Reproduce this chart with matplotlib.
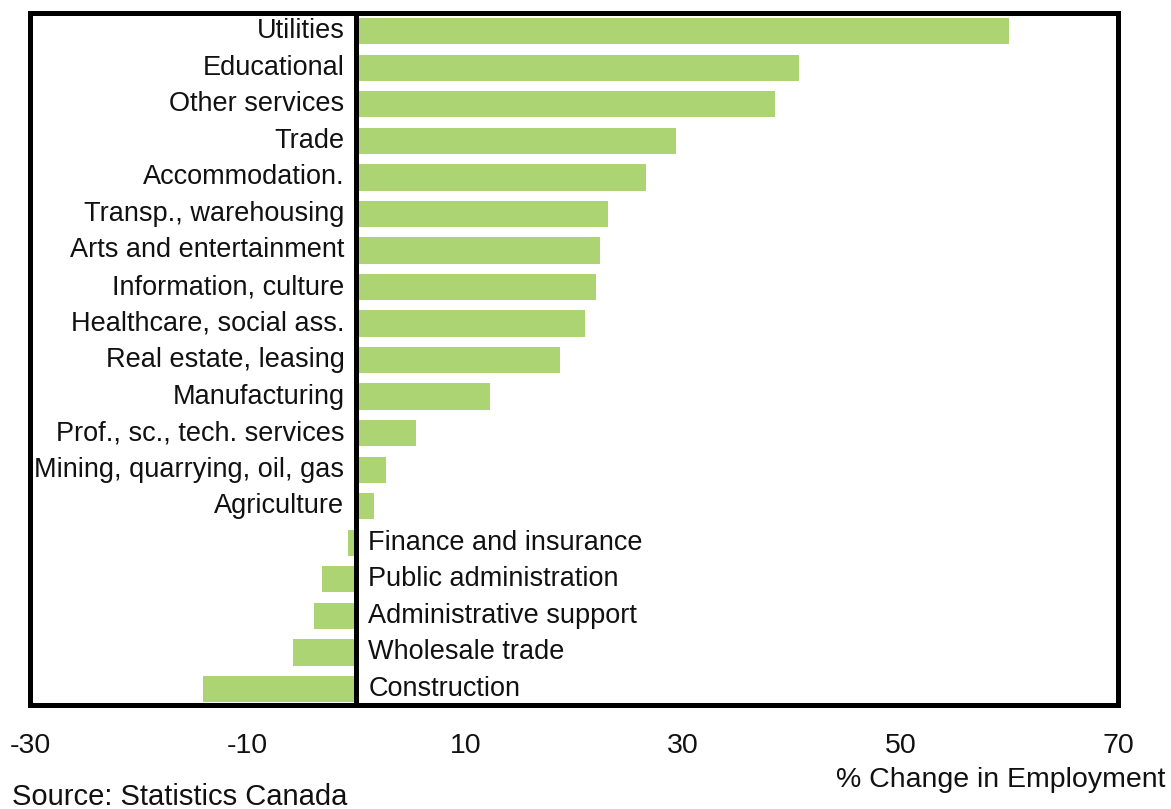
import numpy as np
import matplotlib.pyplot as plt

sectors = ['Utilities', 'Educational', 'Other services', 'Trade', 'Accommodation.',
           'Transp., warehousing', 'Arts and entertainment', 'Information, culture',
           'Healthcare, social ass.', 'Real estate, leasing', 'Manufacturing',
           'Prof., sc., tech. services', 'Mining, quarrying, oil, gas', 'Agriculture',
           'Finance and insurance', 'Public administration', 'Administrative support',
           'Wholesale trade', 'Construction']
change = [60.0, 40.7, 38.5, 29.4, 26.6, 23.1, 22.4, 22.0, 21.0, 18.7, 12.3,
          5.5, 2.7, 1.6, -0.8, -3.2, -3.9, -5.8, -14.1]
xticks = [-30, -10, 10, 30, 50, 70]

plt.rcParams['font.family'] = ['Liberation Sans', 'DejaVu Sans']

fig = plt.figure(figsize=(11.71, 8.09), dpi=100)
ax = fig.add_axes([30 / 1171, 1 - 705 / 809, 1088 / 1171, 692 / 809])

y = np.arange(len(sectors))
ax.barh(y, change, height=0.72, color='#acd473', zorder=2)
ax.axvline(0, color='black', lw=3.6, zorder=3)

# positive bars get their label left of zero, negative ones to the right
for yi, name, val in zip(y, sectors, change):
    if val >= 0:
        ax.text(-1.1, yi, name, ha='right', va='center', fontsize=19.5, color='#111111')
    else:
        ax.text(1.1, yi, name, ha='left', va='center', fontsize=19.5, color='#111111')

ax.set_xlim(-30, 69.8)
ax.set_ylim(len(sectors) - 0.56, -0.5)
ax.set_yticks([])
ax.set_xticks(xticks)
ax.set_xticklabels([str(t) for t in xticks], fontsize=20.5, color='#111111')
ax.tick_params(axis='x', length=0, pad=20)
for s in ax.spines.values():
    s.set_linewidth(3.6)

fig.text(1165 / 1171, 1 - 780 / 809, '% Change in Employment', ha='right', va='center',
         fontsize=20.5, color='#111111')
fig.text(12 / 1171, 1 - 797 / 809, 'Source: Statistics Canada', ha='left', va='center',
         fontsize=21, color='#111111')

fig.savefig('out.png', dpi=100)
